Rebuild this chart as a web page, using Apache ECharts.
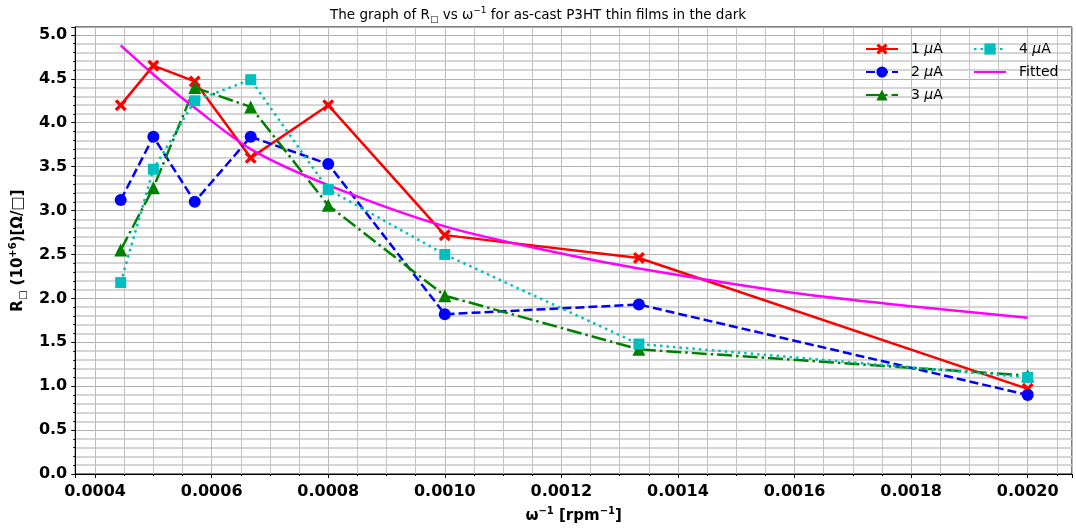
<!DOCTYPE html>
<html>
<head>
<meta charset="utf-8">
<script src="https://cdn.jsdelivr.net/npm/echarts@6/dist/echarts.min.js"></script>
<style>
  html, body { margin: 0; padding: 0; background: #fff; }
  #chart { width: 1076px; height: 531px; }
</style>
</head>
<body>
<div id="chart"></div>
<script>
// inverse spin speed, rpm^-1
const xVals = [0.000444, 0.0005, 0.000571, 0.000667, 0.0008, 0.001, 0.001333, 0.002]
// sheet resistance, 10^6 ohm/sq
const r1uA = [4.20, 4.65, 4.47, 3.60, 4.20, 2.72, 2.46, 0.97]
const r2uA = [3.12, 3.84, 3.10, 3.84, 3.53, 1.82, 1.93, 0.90]
const r3uA = [2.55, 3.26, 4.40, 4.18, 3.06, 2.03, 1.42, 1.12]
const r4uA = [2.18, 3.47, 4.25, 4.49, 3.24, 2.50, 1.48, 1.10]
// fitted curve
const fitX = [0.000444, 0.0005, 0.000571, 0.000667, 0.0008, 0.001, 0.0012, 0.001333, 0.0016, 0.0018, 0.002]
const fitY = [4.88, 4.55, 4.17, 3.70, 3.29, 2.82, 2.51, 2.34, 2.06, 1.91, 1.78]

const seriesNames = ['1 μA', '2 μA', '3 μA', '4 μA', 'Fitted']

function pairs (xs, ys) {
  return xs.map((x, i) => [x, ys[i]])
}

const xMarker = 'path://M2,0 L5,3 L8,0 L10,2 L7,5 L10,8 L8,10 L5,7 L2,10 L0,8 L3,5 L0,2 Z'
const font = 'DejaVu Sans'

function legendBox (items, left) {
  return {
    data: items,
    orient: 'vertical',
    left: left,
    top: 42,
    padding: 0,
    itemWidth: 32,
    itemHeight: 14,
    itemGap: 9,
    formatter: function (name) { return name.replace('μ', '{i|μ}') },
    textStyle: {
      fontFamily: font,
      fontSize: 14,
      color: '#000',
      padding: [0, 0, 0, 8],
      rich: {
        i: { fontFamily: font, fontSize: 14, fontStyle: 'italic', color: '#000' }
      }
    }
  }
}

let myChart = echarts.init(document.getElementById('chart'))

let option = {
  animation: false,
  backgroundColor: '#fff',
  textStyle: { fontFamily: font },
  title: {
    text: 'The graph of R{sub|□} vs ω{sup|−1} for as-cast P3HT thin films in the dark',
    left: 325,
    top: 1,
    textStyle: {
      fontFamily: font,
      fontSize: 13.5,
      fontWeight: 'normal',
      color: '#000',
      lineHeight: 18,
      rich: {
        sub: { fontSize: 9, verticalAlign: 'bottom', lineHeight: 18, fontFamily: font },
        sup: { fontSize: 9, verticalAlign: 'top', lineHeight: 18, fontFamily: font }
      }
    }
  },
  legend: [
    legendBox(seriesNames.slice(0, 3), 865),
    // the fitted line has no marker, so hide the legend symbol
    legendBox([seriesNames[3], { name: seriesNames[4], itemStyle: { opacity: 0 } }], 973)
  ],
  grid: {
    left: 72,
    right: 4,
    top: 27,
    bottom: 53,
    show: true,
    borderColor: '#000',
    borderWidth: 1,
    containLabel: false
  },
  xAxis: {
    type: 'value',
    min: 0.000366,
    max: 0.002076,
    splitNumber: 8,
    name: 'ω{sup|−1} [rpm{sup|−1}]',
    nameLocation: 'middle',
    nameGap: 32,
    nameTextStyle: {
      fontFamily: font,
      fontSize: 15,
      fontWeight: 'bold',
      color: '#000',
      lineHeight: 20,
      rich: {
        sup: { fontSize: 10, fontWeight: 'bold', verticalAlign: 'top', lineHeight: 20, fontFamily: font }
      }
    },
    axisLine: { lineStyle: { color: '#000', width: 1 } },
    axisTick: { show: true, inside: false, length: 4, lineStyle: { color: '#000' } },
    minorTick: { show: true, splitNumber: 4, length: 2, lineStyle: { color: '#000' } },
    axisLabel: {
      showMinLabel: false,
      showMaxLabel: false,
      margin: 10,
      fontFamily: font,
      fontSize: 16,
      fontWeight: 'bold',
      color: '#000',
      formatter: function (v) { return v.toFixed(4) }
    },
    splitLine: { show: true, lineStyle: { color: '#bcbcbc', width: 1 } },
    minorSplitLine: { show: true, lineStyle: { color: '#c4c4c4', width: 1 } }
  },
  yAxis: {
    type: 'value',
    min: 0,
    max: 5.09,
    splitNumber: 10,
    name: '{b|R}{s|□}{b| (10}{p|+6}{b|)[Ω/□]}',
    nameLocation: 'middle',
    nameGap: 42,
    nameTextStyle: {
      fontFamily: font,
      fontSize: 15,
      fontWeight: 'bold',
      color: '#000',
      rich: {
        b: { fontSize: 15, fontWeight: 'bold', lineHeight: 20, fontFamily: font },
        s: { fontSize: 10, fontWeight: 'normal', verticalAlign: 'bottom', lineHeight: 20, fontFamily: font },
        p: { fontSize: 10, fontWeight: 'bold', verticalAlign: 'top', lineHeight: 20, fontFamily: font }
      }
    },
    axisLine: { show: true, lineStyle: { color: '#000', width: 1 } },
    axisTick: { show: true, inside: false, length: 4, lineStyle: { color: '#000' } },
    minorTick: { show: true, splitNumber: 5, length: 2, lineStyle: { color: '#000' } },
    axisLabel: {
      showMaxLabel: false,
      margin: 8,
      fontFamily: font,
      fontSize: 16,
      fontWeight: 'bold',
      color: '#000',
      formatter: function (v) { return v.toFixed(1) }
    },
    splitLine: { show: true, lineStyle: { color: '#b0b0b0', width: 1 } },
    minorSplitLine: { show: true, lineStyle: { color: '#c8c8c8', width: 1.5 } }
  },
  series: [
    {
      name: seriesNames[0],
      type: 'line',
      data: pairs(xVals, r1uA),
      symbol: xMarker,
      symbolSize: 12,
      lineStyle: { color: '#ff0000', width: 2.5, type: 'solid' },
      itemStyle: { color: '#ff0000' }
    },
    {
      name: seriesNames[1],
      type: 'line',
      data: pairs(xVals, r2uA),
      symbol: 'circle',
      symbolSize: 12,
      lineStyle: { color: '#0000ff', width: 2.5, type: [9, 4] },
      itemStyle: { color: '#0000ff' }
    },
    {
      name: seriesNames[2],
      type: 'line',
      data: pairs(xVals, r3uA),
      symbol: 'triangle',
      symbolSize: 13,
      lineStyle: { color: '#008000', width: 2.5, type: [15, 4, 2.5, 4] },
      itemStyle: { color: '#008000' }
    },
    {
      name: seriesNames[3],
      type: 'line',
      data: pairs(xVals, r4uA),
      symbol: 'rect',
      symbolSize: 11,
      lineStyle: { color: '#00bfbf', width: 2.5, type: [2.5, 4] },
      itemStyle: { color: '#00bfbf' }
    },
    {
      name: seriesNames[4],
      type: 'line',
      data: pairs(fitX, fitY),
      symbol: 'none',
      smooth: 0.3,
      lineStyle: { color: '#ff00ff', width: 2.5, type: 'solid' },
      itemStyle: { color: '#ff00ff' }
    }
  ]
}
myChart.setOption(option)
</script>
</body>
</html>
